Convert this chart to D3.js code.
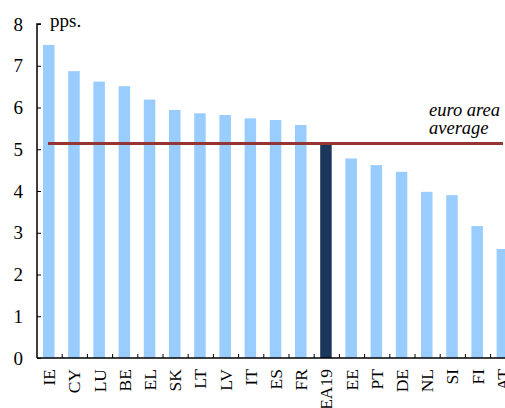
<!DOCTYPE html>
<html><head><meta charset="utf-8">
<script src="https://cdn.jsdelivr.net/npm/d3@7"></script>
<style>body{margin:0;background:#fff}svg{display:block}</style>
</head><body>
<script>
const categories = ["IE","CY","LU","BE","EL","SK","LT","LV","IT","ES","FR","EA19","EE","PT","DE","NL","SI","FI","AT"];
const values = [7.50,6.87,6.62,6.51,6.19,5.94,5.86,5.82,5.74,5.70,5.58,5.13,4.78,4.62,4.46,3.98,3.90,3.16,2.61];
const average = [5.14];
const yTicks = [0,1,2,3,4,5,6,7,8];
const highlight = ["EA19"];

const FONT = "'Liberation Serif', 'Times New Roman', 'DejaVu Serif', serif";
const W=505,H=408;
const svg=d3.select("body").append("svg").attr("width",W).attr("height",H)
 .style("font-family",FONT);
const x0=37, y0=358, y1=24;
const x=d3.scaleBand().domain(categories).range([x0,x0+25.2*categories.length]).paddingInner(0).paddingOuter(0);
const y=d3.scaleLinear().domain([0,8]).range([y0,y1]);

svg.selectAll("rect.bar").data(categories).join("rect")
 .attr("x",d=>x(d)+6).attr("width",11.5)
 .attr("y",(d,i)=>y(values[i])).attr("height",(d,i)=>y0-y(values[i]))
 .attr("fill",d=>highlight.includes(d)?"#1b365d":"#99ccff");

// average line
svg.append("line").attr("x1",48).attr("x2",503).attr("y1",y(average[0])).attr("y2",y(average[0]))
 .attr("stroke","#963634").attr("stroke-width",3);

// y axis
const ya=svg.append("g").attr("transform",`translate(${x0},0)`)
 .call(d3.axisRight(y).tickValues(yTicks).tickSize(4).tickFormat(""));
ya.select(".domain").attr("d",`M4,${y1}H0V${y0}`).attr("stroke","#000").attr("stroke-width",1.5);
ya.selectAll(".tick line").attr("stroke","#000");
svg.selectAll("text.yl").data(yTicks).join("text").attr("class","yl")
 .attr("x",23).attr("y",d=>y(d)).attr("dy","0.35em").attr("text-anchor","end")
 .attr("font-family",FONT).attr("font-size",19).text(d=>d);

// x axis
const xa=svg.append("g").attr("transform",`translate(0,${y0})`);
xa.append("line").attr("x1",x0).attr("x2",W).attr("y1",0).attr("y2",0).attr("stroke","#000").attr("stroke-width",1.5);
xa.selectAll("line.t").data(categories).join("line").attr("class","t")
 .attr("x1",d=>x(d)+x.bandwidth()).attr("x2",d=>x(d)+x.bandwidth()).attr("y1",0).attr("y2",-4).attr("stroke","#000");
xa.selectAll("text").data(categories).join("text")
 .attr("transform",d=>`translate(${x(d)+x.bandwidth()/2+5.5},11) rotate(-90)`)
 .attr("text-anchor","end").attr("font-family",FONT).attr("font-size",17.5).text(d=>d);

svg.append("text").attr("x",50).attr("y",27).attr("font-family",FONT).attr("font-size",19).text("pps.");
svg.append("text").attr("x",429).attr("y",116).attr("font-family",FONT).attr("font-size",18.5).attr("font-style","italic").text("euro area");
svg.append("text").attr("x",429).attr("y",134).attr("font-family",FONT).attr("font-size",18.5).attr("font-style","italic").text("average");
</script>
</body></html>
